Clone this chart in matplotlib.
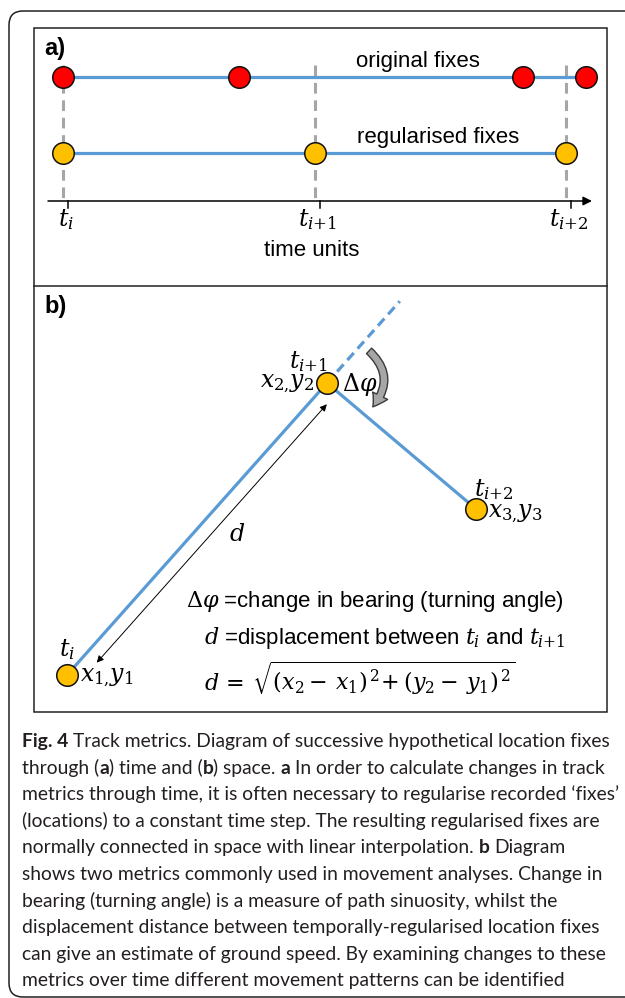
import matplotlib
matplotlib.use("Agg")
import matplotlib.pyplot as plt
from matplotlib.patches import FancyBboxPatch, Rectangle, FancyArrowPatch
import numpy as np

plt.rcParams["font.family"] = ["Liberation Sans", "DejaVu Sans"]
plt.rcParams["mathtext.fontset"] = "dejavuserif"

W, H = 625, 998
BLUE = "#5b9bd5"
RED = "#ff0000"
GOLD = "#ffc000"
GREY = "#a6a6a6"
INK = "#231f20"
CAP_FONT = "Lato"

# panel a: fix times, in units of the regular time step
orig_times = [0.0, 0.70, 1.83, 2.08]
reg_times = [0.0, 1.0, 2.0]
tick_labels = [r"$t_i$", r"$t_{i{+}1}$", r"$t_{i{+}2}$"]
row_labels = ["original fixes", "regularised fixes"]

# panel b: three regularised fixes in space (pixel units inside the box)
space_x = [33, 293, 442]
space_y = [37, 329, 203]
time_labels = [r"$t_i$", r"$t_{i{+}1}$", r"$t_{i{+}2}$"]
coord_labels = [r"$x_{1{,}}y_1$", r"$x_{2{,}}y_2$", r"$x_{3{,}}y_3$"]

legend_lines = [
    r"$\Delta\varphi$ =change in bearing (turning angle)",
    r"$d$ =displacement between $t_i$ and $t_{i{+}1}$",
    r"$d\,=\,\sqrt{(x_2-\,x_1)^{\,2}\!+(y_2-\,y_1)^{\,2}}$",
]

caption = [
    [("Fig. 4", True), (" Track metrics. Diagram of successive hypothetical location fixes", False)],
    [("through (", False), ("a", True), (") time and (", False), ("b", True), (") space. ", False),
     ("a", True), (" In order to calculate changes in track", False)],
    [("metrics through time, it is often necessary to regularise recorded \u2018fixes\u2019", False)],
    [("(locations) to a constant time step. The resulting regularised fixes are", False)],
    [("normally connected in space with linear interpolation. ", False), ("b", True), (" Diagram", False)],
    [("shows two metrics commonly used in movement analyses. Change in", False)],
    [("bearing (turning angle) is a measure of path sinuosity, whilst the", False)],
    [("displacement distance between temporally-regularised location fixes", False)],
    [("can give an estimate of ground speed. By examining changes to these", False)],
    [("metrics over time different movement patterns can be identified", False)],
]

fig = plt.figure(figsize=(W / 100, H / 100), dpi=100)

# full-figure canvas in pixel units for frames and caption
cv = fig.add_axes([0, 0, 1, 1])
cv.set_xlim(0, W)
cv.set_ylim(H, 0)
cv.axis("off")
cv.add_patch(FancyBboxPatch((9, 11), 700, 986, boxstyle="round,pad=0,rounding_size=14",
                            fc="none", ec="#222222", lw=1.1))
cv.add_patch(Rectangle((34, 28), 573, 684, fc="none", ec="#222222", lw=1.1))
cv.plot([34, 607], [286, 286], color="#222222", lw=1.1)
cv.text(44, 48, "a)", fontsize=17, fontweight="bold", va="center")
cv.text(44, 306, "b)", fontsize=17, fontweight="bold", va="center")

# ---- panel a: time ----
PX_T = 251.5   # pixels per time step
T0 = 63        # pixel of t_i
ax_a = fig.add_axes([34 / W, 1 - 286 / H, 573 / W, 258 / H])
ax_a.set_xlim((34 - T0) / PX_T, (607 - T0) / PX_T)
ax_a.set_ylim(286, 28)
ax_a.axis("off")
ax_a.patch.set_alpha(0)

row_orig, row_reg, row_axis = 77, 153, 201
for t in reg_times:
    ax_a.plot([t, t], [65, row_axis], color=GREY, lw=2.2, ls=(0, (3.5, 2.2)), zorder=1)
ax_a.plot([orig_times[0], orig_times[-1]], [row_orig] * 2, color=BLUE, lw=2.3, zorder=2)
ax_a.plot([reg_times[0], reg_times[-1]], [row_reg] * 2, color=BLUE, lw=2.3, zorder=2)
ax_a.plot(orig_times, [row_orig] * len(orig_times), "o", ms=15.5, mfc=RED, mec="#111111", mew=1.1, zorder=4)
ax_a.plot(reg_times, [row_reg] * len(reg_times), "o", ms=15.5, mfc=GOLD, mec="#111111", mew=1.1, zorder=4)
ax_a.text(1.41, 62, row_labels[0], fontsize=16, ha="center", va="center")
ax_a.text(1.49, 137, row_labels[1], fontsize=16, ha="center", va="center")

ax_a.annotate("", xy=((592 - T0) / PX_T, row_axis), xytext=((48 - T0) / PX_T, row_axis),
              arrowprops=dict(arrowstyle="-|>", color="black", lw=1.1, mutation_scale=13,
                              shrinkA=0, shrinkB=0))
for t, lbl in zip(reg_times, tick_labels):
    ax_a.plot([t + 0.02] * 2, [row_axis, row_axis + 7], color="black", lw=1.1)
    ax_a.text(t + 0.01, 220, lbl, fontsize=17, ha="center", va="center")
ax_a.text(0.99, 250, "time units", fontsize=16, ha="center", va="center")

# ---- panel b: space ----
ax_b = fig.add_axes([34 / W, 1 - 712 / H, 573 / W, 426 / H])
ax_b.set_xlim(0, 573)
ax_b.set_ylim(0, 426)
ax_b.axis("off")
ax_b.patch.set_alpha(0)

p = np.column_stack([space_x, space_y]).astype(float)
ext = p[1] + 0.28 * (p[1] - p[0])
ax_b.plot(space_x, space_y, color=BLUE, lw=2.3, zorder=2, solid_capstyle="butt")
ax_b.plot([p[1, 0], ext[0]], [p[1, 1], ext[1]], color=BLUE, lw=2.3, ls=(0, (3, 1.8)), zorder=2)
ax_b.plot(space_x, space_y, "o", ms=15.5, mfc=GOLD, mec="#111111", mew=1.1, zorder=4)

u = (p[1] - p[0]) / np.hypot(*(p[1] - p[0]))
n = np.array([u[1], -u[0]])
a0 = p[0] + 29 * u + 14 * n
a1 = p[1] - 16 * u + 14 * n
ax_b.annotate("", xy=a0, xytext=a1,
              arrowprops=dict(arrowstyle="<|-|>", color="black", lw=0.7, mutation_scale=10,
                              shrinkA=0, shrinkB=0))
ax_b.text(203, 177, r"$d$", fontsize=17, ha="center", va="center")

turn = FancyArrowPatch((333, 363), (337, 303), connectionstyle="arc3,rad=-0.5",
                       arrowstyle="simple,head_length=0.8,head_width=1.0,tail_width=0.45",
                       mutation_scale=12, fc="#a6a6a6", ec="#3a3a3a", lw=1.0, zorder=3)
ax_b.add_patch(turn)
ax_b.text(326, 328, r"$\Delta\varphi$", fontsize=17, ha="center", va="center")

ax_b.text(space_x[0], 62, time_labels[0], fontsize=17, ha="center", va="center")
ax_b.text(46, 34, coord_labels[0], fontsize=17, ha="left", va="center")
ax_b.text(274, 350, time_labels[1], fontsize=17, ha="center", va="center")
ax_b.text(280, 328, coord_labels[1], fontsize=17, ha="right", va="center")
ax_b.text(460, 222, time_labels[2], fontsize=17, ha="center", va="center")
ax_b.text(454, 198, coord_labels[2], fontsize=17, ha="left", va="center")

ax_b.text(152, 110, legend_lines[0], fontsize=16, ha="left", va="center")
ax_b.text(170, 74, legend_lines[1], fontsize=16, ha="left", va="center")
ax_b.text(170, 34, legend_lines[2], fontsize=16, ha="left", va="center")

# ---- caption with mixed bold runs ----
fig.canvas.draw()
rend = fig.canvas.get_renderer()


def text_w(s, bold, fs):
    t = cv.text(0, 0, s, fontsize=fs, family=CAP_FONT, weight="bold" if bold else "normal")
    w = t.get_window_extent(rend).width
    t.remove()
    return w


def line_w(segs, fs):
    total = 0
    for s, b in segs:
        sp = text_w("x x", b, fs) - text_w("xx", b, fs)
        core = s.strip()
        total += (len(s) - len(s.lstrip())) * sp + text_w(core, b, fs) + (len(s) - len(s.rstrip())) * sp
    return total


CAP_FS = 10 * 590 / line_w(caption[0], 10)
y0, dy = 747, 26.6
for k, segs in enumerate(caption):
    x = 22
    for s, b in segs:
        sp = text_w("x x", b, CAP_FS) - text_w("xx", b, CAP_FS)
        core = s.strip()
        x += (len(s) - len(s.lstrip())) * sp
        t = cv.text(x, y0 + k * dy, core, fontsize=CAP_FS, family=CAP_FONT,
                    weight="bold" if b else "normal", va="baseline", color=INK)
        x += t.get_window_extent(rend).width + (len(s) - len(s.rstrip())) * sp

fig.savefig("out.png", dpi=100)
